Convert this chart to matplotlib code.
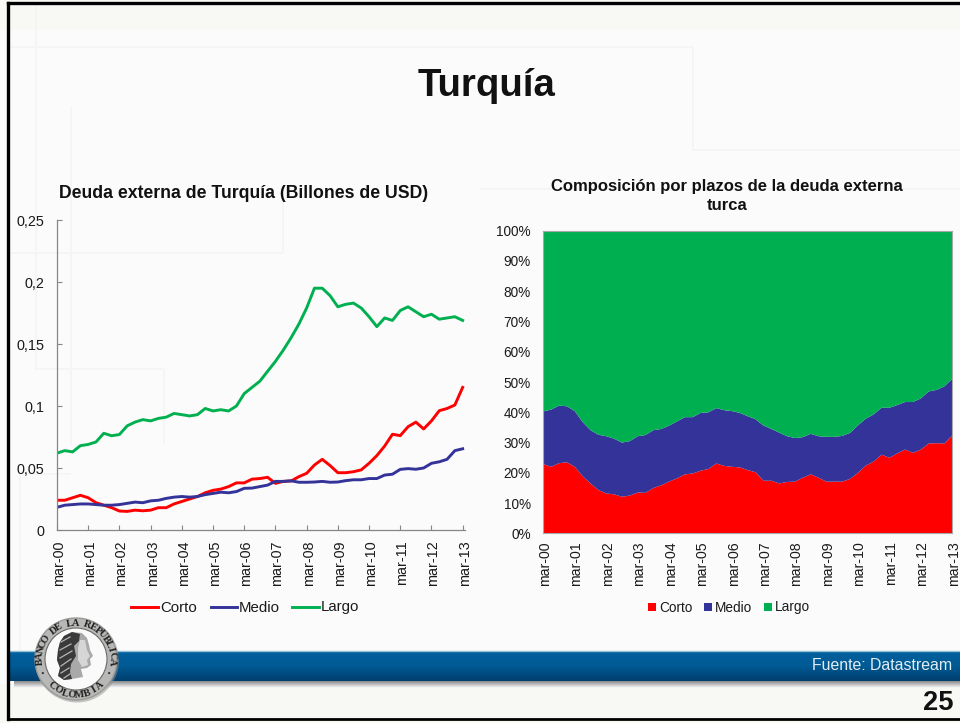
import numpy as np
import matplotlib
matplotlib.use("Agg")
import matplotlib.pyplot as plt
from matplotlib.colors import LinearSegmentedColormap
from matplotlib.lines import Line2D
from matplotlib.patches import Circle, Polygon, Rectangle
from matplotlib.transforms import ScaledTranslation

plt.rcParams['font.family'] = ['Liberation Sans', 'DejaVu Sans']

year_labels = ['mar-00', 'mar-01', 'mar-02', 'mar-03', 'mar-04', 'mar-05', 'mar-06',
               'mar-07', 'mar-08', 'mar-09', 'mar-10', 'mar-11', 'mar-12', 'mar-13']

corto = [.024, .024, .026, .028, .026, .022, .020, .018,
         .0153, .015, .016, .0155, .016, .018, .018, .021,
         .023, .025, .027, .030, .032, .033, .035, .038,
         .038, .041, .0415, .0425, .0376, .0392, .0395, .043,
         .0457, .0524, .057, .052, .0462, .0462, .047, .0485,
         .0538, .060, .0677, .0772, .0761, .0833, .087, .0815,
         .088, .0962, .098, .1008, .115]
medio = [.0183, .020, .0205, .021, .021, .0205, .020, .020,
         .0205, .0215, .0225, .022, .0235, .024, .0255, .0265,
         .027, .0265, .027, .0285, .0295, .0305, .030, .031,
         .0336, .0338, .035, .0362, .0392, .0392, .0397, .0385,
         .0385, .0387, .0392, .0385, .0387, .0398, .0405, .0405,
         .0415, .0415, .0443, .045, .0489, .0495, .049, .050,
         .0538, .055, .057, .064, .0655]
largo = [.062, .064, .063, .068, .069, .071, .078, .076,
         .077, .084, .087, .089, .088, .090, .091, .094,
         .093, .092, .093, .098, .096, .097, .096, .100,
         .110, .115, .120, .128, .136, .145, .155, .166,
         .179, .195, .195, .189, .180, .182, .183, .179,
         .172, .164, .171, .169, .177, .180, .176, .172,
         .174, .170, .171, .172, .169]

corto_pct = [22.9, 22, 23.2, 23.5, 22, 18.9, 16.5, 14.3, 13.2, 12.9, 12.1, 12.5, 13.5,
             13.4, 15, 15.9, 17.1, 18.2, 19.5, 19.8, 20.7, 21.3, 23.1, 22.3, 22, 21.8,
             20.9, 20.2, 17.4, 17.4, 16.5, 17, 17.1, 18.4, 19.5, 18.4, 17.1, 17.1, 17.1,
             18, 20, 22.4, 23.7, 26, 25, 26.4, 27.7, 26.6, 27.7, 29.7, 29.8, 29.7, 32.4]
medio_pct = [17.4, 18.9, 19, 18.5, 18.4, 17.9, 17.6, 18.3, 18.9, 18.4, 17.9, 18, 18.6,
             19.1, 19.1, 18.6, 18.5, 18.8, 18.9, 18.6, 19.1, 18.7, 18.3, 18.4, 18.4, 18,
             17.8, 17.5, 18.2, 17.1, 16.8, 15.1, 14.4, 13.4, 13.4, 13.7, 14.8, 14.8, 15.1,
             15.2, 15.7, 15.5, 15.6, 15.5, 16.5, 16, 15.7, 16.8, 16.9, 17.2, 17.6, 18.9, 18.7]
largo_pct = [59.7, 59.1, 57.8, 58, 59.6, 63.2, 65.9, 67.4, 67.9, 68.7, 70, 69.5, 67.9,
             67.5, 65.9, 65.5, 64.4, 63, 61.6, 61.6, 60.2, 60, 58.6, 59.3, 59.6, 60.2,
             61.3, 62.3, 64.4, 65.5, 66.7, 67.9, 68.5, 68.2, 67.1, 67.9, 68.1, 68.1, 67.8,
             66.8, 64.3, 62.1, 60.7, 58.5, 58.5, 57.6, 56.6, 56.6, 55.4, 53.1, 52.6, 51.4, 48.9]

RED, BLUE, GREEN = '#FF0000', '#333399', '#00B050'
GREY, TXT = '#868686', '#1a1a1a'
W, H = 960, 723
fig = plt.figure(figsize=(W / 100, H / 100), dpi=100, facecolor='#FBFBFB')


def axes_px(x0, y0, x1, y1, **kw):
    return fig.add_axes([x0 / W, 1 - y1 / H, (x1 - x0) / W, (y1 - y0) / H], **kw)


# ---------- slide background ----------
bg = axes_px(0, 0, W, H, zorder=0)
bg.set_xlim(0, W)
bg.set_ylim(H, 0)
bg.axis('off')
bg.add_patch(Rectangle((0, 0), W, 30, fc='#F8F8F4', ec='none'))
bg.add_patch(Rectangle((0, 684), W, 39, fc='#F8F8F4', ec='none'))
faint = dict(color='#F4F4F4', lw=1.2, solid_capstyle='butt')
for xs, ys in [((36, 36), (5, 370)), ((10, 693), (47, 47)), ((693, 693), (47, 150)),
               ((693, 960), (150, 150)), ((71, 71), (107, 445)), ((10, 283), (253, 253)),
               ((283, 283), (190, 253)), ((36, 164), (369, 369)), ((164, 164), (369, 445)),
               ((20, 71), (474, 474)), ((480, 960), (189, 189)), ((20, 20), (474, 650))]:
    bg.plot(xs, ys, **faint)

bar_cmap = LinearSegmentedColormap.from_list('bar', ['#00609E', '#005A94', '#013F6E'])
bg.imshow(np.linspace(0, 1, 64)[:, None], extent=(9, W, 681, 651), cmap=bar_cmap, aspect='auto', zorder=2)
shadow = LinearSegmentedColormap.from_list('sh', ['#8a8a8a', '#FBFBFB'])
bg.imshow(np.linspace(0, 1, 32)[:, None], extent=(14, W, 688, 681), cmap=shadow, aspect='auto', zorder=1)
bg.plot([9, W], [650.6, 650.6], color='#8FC0D8', lw=1, zorder=3)
bg.set_xlim(0, W)
bg.set_ylim(H, 0)
# frame
bg.plot([8, 8], [3, 719], color='black', lw=2.4, zorder=6, solid_capstyle='projecting')
bg.plot([8, W], [3, 3], color='black', lw=2.4, zorder=6)
bg.plot([8, W], [718.6, 718.6], color='black', lw=2, zorder=6)

bg.text(486.5, 85.5, 'Turquía', fontsize=27.6, fontweight='bold', color='#111111', ha='center', va='center')
bg.text(952.5, 665.5, 'Fuente: Datastream', fontsize=11.4, color='#E3EDF4', ha='right', va='center', zorder=5)
bg.text(953.5, 702.5, '25', fontsize=19.6, fontweight='bold', color='#111111', ha='right', va='center', zorder=5)
bg.text(243.5, 194, 'Deuda externa de Turquía (Billones de USD)', fontsize=12.7, fontweight='bold',
        color='#111111', ha='center', va='center')
bg.text(727, 196, 'Composición por plazos de la deuda externa\nturca', fontsize=12, fontweight='bold',
        color='#111111', ha='center', va='center', linespacing=1.32)

# ---------- logo ----------
cx, cy = 76, 659
bg.add_patch(Circle((cx + 1, cy + 1.5), 42, fc='#8f8f8f', ec='none', alpha=.5, zorder=6))
bg.add_patch(Circle((cx, cy), 41, fc='#B8B8B6', ec='#9a9a98', lw=1, zorder=7))
bg.add_patch(Circle((cx, cy), 31, fc='#FAFAFA', ec='#6a6a6a', lw=.8, zorder=8))


def arc_text(word, a0, a1, r, flip=False):
    for ch, a in zip(word, np.linspace(a0, a1, len(word))):
        t = np.radians(a)
        rot = (a - 90) if not flip else (a + 90)
        bg.text(cx + r * np.cos(t), cy - r * np.sin(t), ch, fontsize=7.4, fontweight='bold',
                family='Liberation Serif', color='#222222', rotation=rot,
                ha='center', va='center', zorder=9)


arc_text('BANCO DE LA REPUBLICA', 184, -4, 36)
arc_text('COLOMBIA', 228, 312, 36, flip=True)
for a in (203, 337):
    t = np.radians(a)
    bg.add_patch(Circle((cx + 36 * np.cos(t), cy - 36 * np.sin(t)), 1.1, fc='#333333', ec='none', zorder=9))
# stylised head
head = [(64, 636), (72, 632), (82, 633), (87, 638), (89, 645), (90, 650), (93, 656), (90, 659),
        (91, 665), (87, 668), (81, 669), (83, 677), (72, 679), (64, 680), (58, 676), (60, 668),
        (57, 660), (58, 650), (60, 642)]
bg.add_patch(Polygon(head, closed=True, fc='#A9A9A9', ec='none', zorder=9))
hair = [(64, 636), (72, 632), (80, 634), (79, 641), (74, 646), (76, 656), (71, 664), (70, 672),
        (72, 679), (64, 680), (58, 676), (60, 668), (57, 660), (58, 650), (60, 642)]
bg.add_patch(Polygon(hair, closed=True, fc='#3A3A3A', ec='none', zorder=10))
for (hx0, hy0, hx1, hy1) in [(61, 642, 70, 637), (60, 650, 71, 644), (60, 658, 72, 651),
                             (61, 666, 71, 659), (61, 673, 69, 668), (64, 678, 70, 674)]:
    bg.plot([hx0, hx1], [hy0, hy1], color='#B5B5B5', lw=.9, zorder=11)
face = [(80, 640), (85, 640), (87, 650), (90, 656), (87, 660), (88, 665), (82, 667), (78, 660), (78, 648)]
bg.add_patch(Polygon(face, closed=True, fc='#D6D6D6', ec='none', zorder=10))

# ---------- left chart ----------
x = np.arange(len(corto))
tick_pos = np.arange(0, len(corto), 4)

ax = axes_px(57, 220, 465, 530, zorder=2)
ax.patch.set_alpha(0)
ax.plot(x, corto, color=RED, lw=2.1, solid_joinstyle='round')
ax.plot(x, medio, color=BLUE, lw=2.1, solid_joinstyle='round')
ax.plot(x, largo, color=GREEN, lw=2.1, solid_joinstyle='round')
ax.set_xlim(0, 52.3)
ax.set_ylim(0, 0.25)
ax.set_yticks([0, .05, .1, .15, .2, .25])
ax.set_yticklabels(['0', '0,05', '0,1', '0,15', '0,2', '0,25'])
ax.set_xticks(tick_pos)
ax.set_xticklabels(year_labels, rotation=90)
ax.tick_params(axis='y', direction='in', length=3.6, width=.8, color=GREY, labelsize=10.4,
               labelcolor=TXT, pad=9)
ax.tick_params(axis='x', direction='in', length=3.6, width=.8, color=GREY, labelsize=10.4,
               labelcolor=TXT, pad=7.5)
for s in ('top', 'right'):
    ax.spines[s].set_visible(False)
for s in ('left', 'bottom'):
    ax.spines[s].set_color(GREY)
    ax.spines[s].set_linewidth(.9)
shift = ScaledTranslation(2 / 100, 0, fig.dpi_scale_trans)
for lab in ax.get_xticklabels():
    lab.set_transform(lab.get_transform() + shift)

for x0, x1, lab, col in [(131, 158, 'Corto', RED), (211, 237, 'Medio', BLUE), (292, 319, 'Largo', GREEN)]:
    bg.add_line(Line2D([x0, x1], [607, 607], color=col, lw=2.1, zorder=5))
    bg.text(x1 + 2, 607.5, lab, fontsize=10.8, color=TXT, ha='left', va='center')

# ---------- right chart ----------
ax2 = axes_px(543.3, 230.7, 952.3, 533.4, zorder=2)
ax2.patch.set_alpha(0)
ax2.stackplot(x, corto_pct, medio_pct, largo_pct, colors=[RED, BLUE, GREEN], linewidth=0, zorder=3)
ax2.set_xlim(0, 52)
ax2.set_ylim(0, 100)
ax2.set_yticks(np.arange(0, 101, 10))
ax2.set_yticklabels([f'{v}%' for v in range(0, 101, 10)])
ax2.set_xticks(tick_pos)
ax2.set_xticklabels(year_labels, rotation=90)
ax2.tick_params(axis='y', direction='in', length=0, labelsize=9.8, labelcolor=TXT, pad=9)
ax2.tick_params(axis='x', direction='in', length=0, labelsize=10.2, labelcolor=TXT, pad=5.5)
for s in ax2.spines.values():
    s.set_color('#A8A8A8')
    s.set_linewidth(.8)
    s.set_zorder(4)
shift2 = ScaledTranslation(1.5 / 100, 0, fig.dpi_scale_trans)
for lab in ax2.get_xticklabels():
    lab.set_transform(lab.get_transform() + shift2)

for sq, lab, col in [(648, 'Corto', RED), (704, 'Medio', BLUE), (764, 'Largo', GREEN)]:
    bg.add_patch(Rectangle((sq, 603), 8, 8, fc=col, ec='none'))
    bg.text(sq + 11, 607.5, lab, fontsize=9.8, color=TXT, ha='left', va='center')

fig.savefig('out.png', dpi=100, facecolor=fig.get_facecolor())
